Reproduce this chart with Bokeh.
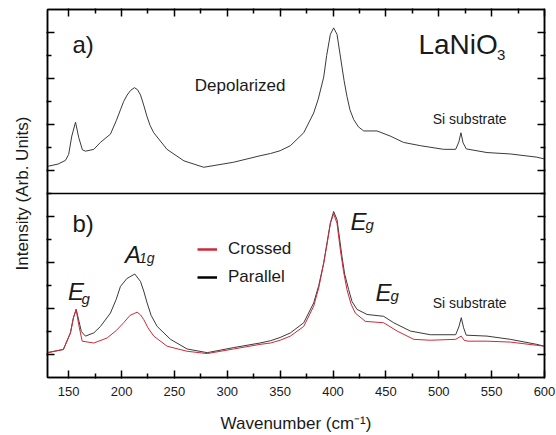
from bokeh.plotting import figure
from bokeh.models import (Range1d, LinearAxis, FixedTicker, Span, Label,
                          Legend, LegendItem)
from bokeh.embed import file_html
from bokeh.resources import INLINE

# ---------------- data ----------------
# a) Depolarized spectrum (top panel, arbitrary units)
depol_x = [130, 140, 147, 150, 153, 156.5, 159.5, 163, 166, 173.8, 180, 189.5, 195,
           199, 202, 205.3, 208.5, 212.2, 215, 218, 221, 224, 227, 230.5, 243, 259,
           277.7, 306, 331, 341, 350, 359.7, 372.3, 381.7, 386, 391.2, 394, 397.5,
           400.6, 403.8, 408.5, 410.5, 413.2, 416, 419.5, 424, 429, 441.6, 454,
           466.8, 482.5, 504.6, 516, 519, 521, 523, 526, 545.6, 567.6, 592.8, 600]
depol_y = [0.09, 0.14, 0.22, 0.35, 0.75, 1.05, 0.72, 0.45, 0.42, 0.46, 0.61, 0.79, 1.08,
           1.32, 1.50, 1.64, 1.74, 1.80, 1.76, 1.64, 1.42, 1.18, 0.98, 0.82, 0.46, 0.21,
           0.07, 0.18, 0.32, 0.37, 0.43, 0.54, 0.82, 1.25, 1.55, 2.03, 2.50, 2.96,
           3.10, 2.96, 2.25, 1.95, 1.61, 1.32, 1.11, 0.95, 0.86, 0.86, 0.75,
           0.61, 0.54, 0.46, 0.46, 0.62, 0.82, 0.60, 0.47, 0.39, 0.36, 0.29, 0.25]

# b) Parallel polarization (bottom panel)
par_x = [130, 145, 151.7, 154.5, 157.1, 159.5, 162, 165.9, 173.8, 180.1, 189.5, 195,
         199, 205, 212.5, 217.9, 221, 224.2, 228, 233.7, 246.3, 262, 281, 306, 331,
         341, 350, 359.7, 372.3, 381.7, 386.5, 391.2, 394.5, 397.5, 400.6, 403.8,
         408.5, 411, 414.8, 418, 422.7, 432.2, 447.9, 457.4, 473.1, 492, 516, 519,
         521.3, 523.5, 526, 545.6, 567.6, 592.8, 600]
par_y = [0.04, 0.11, 0.47, 0.80, 0.98, 0.75, 0.50, 0.40, 0.47, 0.61, 0.90, 1.20,
         1.48, 1.65, 1.75, 1.59, 1.38, 1.12, 0.85, 0.61, 0.33, 0.12, 0.04, 0.15, 0.25,
         0.30, 0.37, 0.47, 0.69, 1.12, 1.50, 1.99, 2.45, 2.86, 3.11, 2.93,
         2.13, 1.75, 1.41, 1.15, 0.98, 0.87, 0.83, 0.69, 0.51, 0.43, 0.43, 0.60,
         0.80, 0.58, 0.42, 0.40, 0.33, 0.22, 0.18]

# b) Crossed polarization (bottom panel)
cro_x = [130, 145, 151.7, 154.5, 157.1, 159.5, 162.8, 173.8, 186.4, 195, 202, 208,
         214.8, 218, 221, 225, 230.5, 243.1, 262, 281, 306, 331, 341, 350, 359.7,
         372.3, 381.7, 386.5, 391.2, 394.5, 397.5, 400.6, 403.8, 406.9, 410, 413.2,
         417, 421.1, 430.6, 447.9, 460.6, 476.3, 492, 516, 521.3, 524, 527.6, 545.6,
         567.6, 592.8, 600]
cro_y = [0.04, 0.11, 0.47, 0.80, 0.98, 0.65, 0.29, 0.25, 0.36, 0.52, 0.69, 0.85,
         0.92, 0.86, 0.76, 0.58, 0.40, 0.18, 0.07, 0.02, 0.12, 0.22, 0.25, 0.31, 0.40,
         0.61, 1.05, 1.45, 1.99, 2.42, 2.85, 3.06, 2.85, 2.28, 1.80, 1.41,
         1.10, 0.90, 0.72, 0.69, 0.51, 0.33, 0.31, 0.33, 0.40, 0.31, 0.29, 0.29,
         0.27, 0.20, 0.18]

x_major = [150, 200, 250, 300, 350, 400, 450, 500, 550, 600]
x_minor = [175, 225, 275, 325, 375, 425, 475, 525, 575]
y_major = [0, 1, 2, 3, 4, 5, 6, 7]
y_minor = [0.5, 1.5, 2.5, 3.5, 4.5, 5.5, 6.5]

RED = "#cc2a3a"
FONT = "Liberation Sans"
TXT = "#1a1a1a"

# ---------------- figure ----------------
p = figure(width=556, height=435, output_backend="svg", toolbar_location=None,
           x_range=Range1d(130, 600), y_range=Range1d(-0.5, 7.5),
           x_axis_location=None, y_axis_location=None,
           min_border_left=47, min_border_right=12, min_border_top=9,
           min_border_bottom=57)
p.extra_y_ranges = {"top": Range1d(-4.5, 3.5)}
p.grid.visible = False
p.outline_line_color = "black"
p.outline_line_width = 1.5
p.background_fill_color = "white"
p.border_fill_color = "white"


def style(ax, labels=False):
    ax.major_tick_in = 7
    ax.major_tick_out = 1
    ax.minor_tick_in = 4
    ax.minor_tick_out = 1
    ax.major_tick_line_width = 1.5
    ax.minor_tick_line_width = 1.5
    ax.major_tick_line_color = "black"
    ax.minor_tick_line_color = "black"
    ax.axis_line_width = 1.5
    ax.axis_line_color = "black"
    if labels:
        ax.major_label_text_font = FONT
        ax.major_label_text_font_size = "13px"
        ax.major_label_text_color = TXT
        ax.major_label_standoff = 8
    else:
        ax.major_label_text_font_size = "0px"
        ax.major_label_standoff = 0


xt = FixedTicker(ticks=x_major, minor_ticks=x_minor)
yt = FixedTicker(ticks=y_major, minor_ticks=y_minor)

bottom = LinearAxis(ticker=xt)
style(bottom, labels=True)
bottom.axis_label = "Wavenumber (cm\u207b\u00b9)"
bottom.axis_label_text_font = FONT
bottom.axis_label_text_font_size = "17px"
bottom.axis_label_text_font_style = "normal"
bottom.axis_label_text_color = TXT
bottom.axis_label_standoff = 15
p.add_layout(bottom, "below")

top = LinearAxis(ticker=xt)
style(top)
p.add_layout(top, "above")

left = LinearAxis(ticker=yt)
style(left)
left.axis_label = "Intensity (Arb. Units)"
left.axis_label_text_font = FONT
left.axis_label_text_font_size = "17px"
left.axis_label_text_font_style = "normal"
left.axis_label_text_color = TXT
left.axis_label_standoff = 15
p.add_layout(left, "left")

right = LinearAxis(ticker=yt)
style(right)
p.add_layout(right, "right")

# separator between panels
p.add_layout(Span(location=3.5, dimension="width", line_color="black",
                  line_width=1.5))

# ---------------- spectra ----------------
r_dep = p.line(depol_x, depol_y, y_range_name="top", line_color="#3a3a3a", line_width=1)
r_par = p.line(par_x, par_y, line_color="#3a3a3a", line_width=1)
r_cro = p.line(cro_x, cro_y, line_color=RED, line_width=1)

# legend swatches: single-point lines (draw nothing in the plot) with a thicker stroke
leg_r = p.line(x=cro_x[:1], y=cro_y[:1], line_color=RED, line_width=2.5)
leg_k = p.line(x=par_x[:1], y=par_y[:1], line_color="black", line_width=2.5)
legend = Legend(items=[LegendItem(label="Crossed", renderers=[leg_r]),
                       LegendItem(label="Parallel", renderers=[leg_k])],
                location=(150, 90), border_line_color=None,
                background_fill_alpha=0, padding=0, margin=0, spacing=8,
                glyph_width=20, glyph_height=20, label_height=20,
                label_standoff=11, label_text_font=FONT,
                label_text_font_size="17px", label_text_color=TXT)
p.add_layout(legend)


def lab(x, y, text, size, style="normal", rng="default"):
    p.add_layout(Label(x=x, y=y, text=text, y_range_name=rng,
                       text_font=FONT, text_font_size=size,
                       text_font_style=style, text_color=TXT,
                       text_align="left", text_baseline="alphabetic"))


# top panel annotations
lab(153.6, 2.73, "a)", "24px", rng="top")
lab(269.3, 1.85, "Depolarized", "17px", rng="top")
lab(480.8, 2.74, "LaNiO", "28px", rng="top")
lab(555.0, 2.52, "3", "15px", rng="top")
lab(494.3, 1.13, "Si substrate", "14px", rng="top")

# bottom panel annotations
lab(153.6, 2.85, "b)", "24px")
lab(149.4, 1.37, "E", "24px", "italic")
lab(162.2, 1.22, "g", "15px", "italic")
lab(203.3, 2.17, "A", "24px", "italic")
lab(216.5, 2.09, "1g", "14px", "italic")
lab(416.5, 2.90, "E", "24px", "italic")
lab(430.7, 2.83, "g", "15px", "italic")
lab(440.2, 1.35, "E", "24px", "italic")
lab(454.3, 1.28, "g", "15px", "italic")
lab(494.3, 1.13, "Si substrate", "14px")

open("out.html", "w").write(file_html(p, INLINE))
